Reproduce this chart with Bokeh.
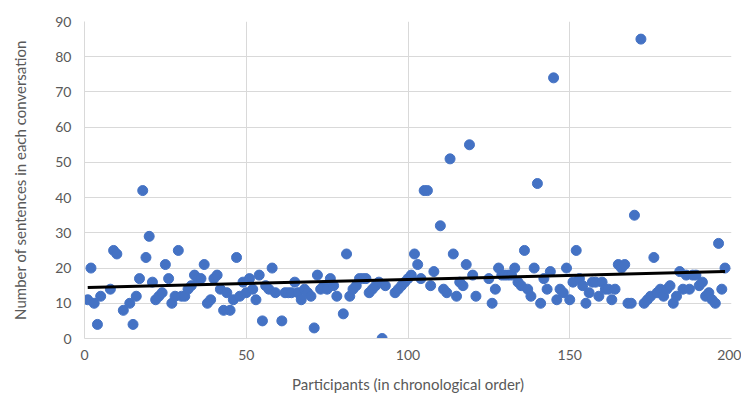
from bokeh.plotting import figure
from bokeh.models import ColumnDataSource, FixedTicker
from bokeh.embed import file_html
from bokeh.resources import INLINE

participants = [1, 2, 3, 4, 5, 8, 9, 10, 12, 14, 15, 16, 17, 18, 19, 20, 21, 22, 23, 24,
                25, 26, 27, 28, 29, 30, 31, 32, 33, 34, 35, 36, 37, 38, 39, 40, 41, 42, 43, 44,
                45, 46, 47, 48, 49, 50, 51, 52, 53, 54, 55, 56, 57, 58, 59, 61, 62, 63, 64, 65,
                66, 67, 68, 69, 70, 71, 72, 73, 74, 75, 76, 77, 78, 80, 81, 82, 83, 84, 85, 86,
                87, 88, 89, 90, 91, 92, 93, 96, 97, 98, 99, 100, 101, 102, 103, 104, 105, 106, 107, 108,
                110, 111, 112, 113, 114, 115, 116, 117, 118, 119, 120, 121, 125, 126, 127, 128, 129, 130, 131, 132,
                133, 134, 135, 136, 137, 138, 139, 140, 141, 142, 143, 144, 145, 146, 147, 148, 149, 150, 151, 152,
                153, 154, 155, 156, 157, 158, 159, 160, 161, 162, 163, 164, 165, 166, 167, 168, 169, 170, 172, 173,
                174, 175, 176, 177, 178, 179, 180, 181, 182, 183, 184, 185, 186, 187, 188, 189, 190, 191, 192, 193,
                194, 195, 196, 197, 198]
sentences = [11, 20, 10, 4, 12, 14, 25, 24, 8, 10, 4, 12, 17, 42, 23, 29, 16, 11, 12, 13,
             21, 17, 10, 12, 25, 12, 12, 14, 15, 18, 17, 17, 21, 10, 11, 17, 18, 14, 8, 13,
             8, 11, 23, 12, 16, 13, 17, 14, 11, 18, 5, 15, 14, 20, 13, 5, 13, 13, 13, 16,
             13, 11, 14, 13, 12, 3, 18, 14, 15, 14, 17, 15, 12, 7, 24, 12, 14, 15, 17, 17,
             17, 13, 14, 15, 16, 0, 15, 13, 14, 15, 16, 17, 18, 24, 21, 17, 42, 42, 15, 19,
             32, 14, 13, 51, 24, 12, 16, 15, 21, 55, 18, 12, 17, 10, 14, 20, 18, 18, 18, 18,
             20, 16, 15, 25, 14, 12, 20, 44, 10, 17, 14, 19, 74, 11, 14, 13, 20, 11, 16, 25,
             17, 15, 10, 13, 16, 16, 12, 16, 14, 14, 11, 14, 21, 20, 21, 10, 10, 35, 85, 10,
             11, 12, 23, 13, 14, 12, 14, 15, 10, 12, 19, 14, 18, 14, 18, 18, 15, 16, 12, 13,
             11, 10, 27, 14, 20]

trend_x = [1, 198]
trend_y = [14.5, 19.0]

x_ticks = [0, 50, 100, 150, 200]
y_ticks = [0, 10, 20, 30, 40, 50, 60, 70, 80, 90]

FONT = "Lato"
GREY = "#595959"
GRID = "#d9d9d9"

p = figure(width=741, height=396, output_backend="svg", toolbar_location=None,
           x_range=(0, 200), y_range=(0, 90),
           min_border_left=84, min_border_right=10, min_border_top=21, min_border_bottom=58)

src = ColumnDataSource(dict(x=participants, y=sentences))
p.scatter("x", "y", source=src, size=10, fill_color="#4472C4", line_color="#4472C4")
p.line(trend_x, trend_y, line_color="black", line_width=3)

p.xaxis.ticker = FixedTicker(ticks=x_ticks)
p.yaxis.ticker = FixedTicker(ticks=y_ticks)
p.xgrid.ticker = FixedTicker(ticks=x_ticks)
p.ygrid.ticker = FixedTicker(ticks=y_ticks)
p.grid.grid_line_color = GRID
p.grid.grid_line_width = 1
p.outline_line_color = None

for ax in (p.xaxis, p.yaxis):
    ax.axis_line_color = GRID
    ax.major_tick_line_color = None
    ax.minor_tick_line_color = None
    ax.major_tick_out = 0
    ax.major_tick_in = 0
    ax.minor_tick_out = 0
    ax.major_label_text_font = FONT
    ax.major_label_text_font_size = "14px"
    ax.major_label_text_color = GREY
    ax.axis_label_text_font = FONT
    ax.axis_label_text_font_size = "15px"
    ax.axis_label_text_font_style = "normal"
    ax.axis_label_text_color = GREY

p.xaxis.axis_label = "Participants (in chronological order)"
p.yaxis.axis_label = "Number of sentences in each conversation"
p.xaxis.major_label_standoff = 11
p.yaxis.major_label_standoff = 13
p.xaxis.axis_label_standoff = 12
p.yaxis.axis_label_standoff = 23

open("out.html", "w").write(file_html(p, INLINE))
